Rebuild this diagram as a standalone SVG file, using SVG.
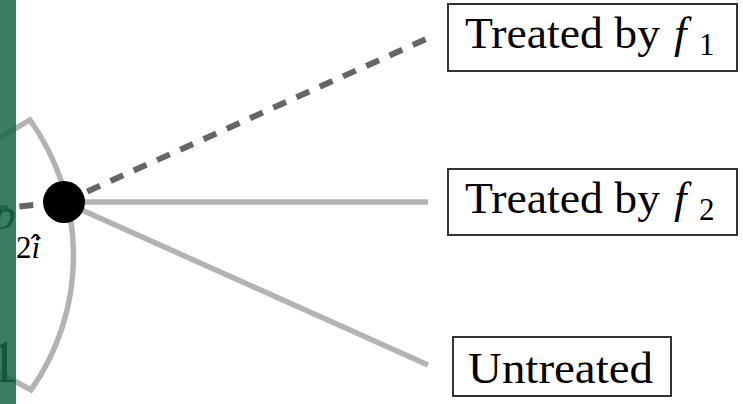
<svg xmlns="http://www.w3.org/2000/svg" width="743" height="404" viewBox="0 0 743 404">
  <style>
    .rule { fill: none; stroke: #b3b3b3; stroke-width: 5.5; }
    .dash { fill: none; stroke: #666666; stroke-width: 6; stroke-dasharray: 14 11.5; }
    .box { fill: #ffffff; stroke: #333333; stroke-width: 2; }
    .lbl { font-family: "Liberation Serif", "DejaVu Serif", serif; font-size: 45px; fill: #000000; }
    .it { font-style: italic; }
    .sub { font-size: 31px; }
  </style>

  <!-- bracket arc around the branch point -->
  <g id="bracket">
    <path class="rule" d="M -4 140 L 30 120 A 233.4 233.4 0 0 1 31 390 L -4 371" stroke-linejoin="miter"/>
  </g>

  <!-- connectors -->
  <g id="connectors">
    <path class="dash" d="M -6 209 L 64 202"/>
    <path class="dash" d="M 64 202 L 426 39"/>
    <line class="rule" x1="64" y1="202" x2="428" y2="202"/>
    <line class="rule" x1="64" y1="202" x2="428" y2="365"/>
  </g>

  <!-- branch node -->
  <g id="node-branch">
    <circle cx="64" cy="202" r="21" fill="#000000"/>
    <text class="lbl it" x="-7" y="229">p</text>
    <text class="lbl sub" x="16" y="258">2<tspan class="it">i</tspan><tspan dx="-9.6" dy="-2">ˆ</tspan></text>
  </g>

  <g id="node-left-label">
    <text class="lbl" x="-12" y="382" style="font-size:62px">1</text>
  </g>

  <!-- outcome boxes -->
  <g id="node-f1">
    <rect class="box" x="448" y="4" width="289" height="67"/>
    <text class="lbl" x="465" y="48" textLength="195" lengthAdjust="spacingAndGlyphs">Treated by</text>
    <text class="lbl it" x="674" y="48">f</text>
    <text class="lbl sub" x="699" y="55">1</text>
  </g>

  <g id="node-f2">
    <rect class="box" x="448" y="169" width="289" height="66"/>
    <text class="lbl" x="465" y="213" textLength="195" lengthAdjust="spacingAndGlyphs">Treated by</text>
    <text class="lbl it" x="674" y="213">f</text>
    <text class="lbl sub" x="699" y="220">2</text>
  </g>

  <g id="node-untreated">
    <rect class="box" x="453" y="337" width="218" height="59"/>
    <text class="lbl" x="468" y="383" textLength="185" lengthAdjust="spacingAndGlyphs">Untreated</text>
  </g>

  <!-- translucent side band -->
  <rect x="0" y="0" width="16" height="404" fill="#186645" fill-opacity="0.85"/>
</svg>
